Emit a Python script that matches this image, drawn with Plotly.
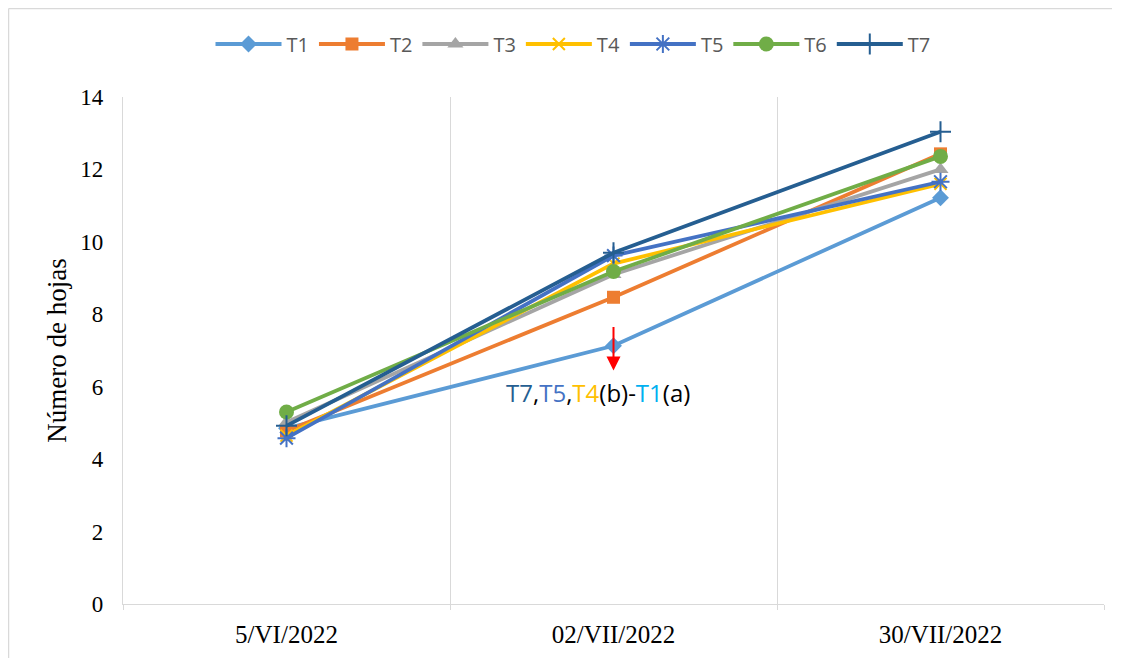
import plotly.graph_objects as go

fechas = ["5/VI/2022", "02/VII/2022", "30/VII/2022"]
series_names = ["T1", "T2", "T3", "T4", "T5", "T6", "T7"]
T1 = [4.85, 7.13, 11.22]
T2 = [4.78, 8.47, 12.43]
T3 = [5.02, 9.10, 12.00]
T4 = [4.65, 9.40, 11.60]
T5 = [4.58, 9.62, 11.66]
T6 = [5.30, 9.18, 12.36]
T7 = [4.92, 9.70, 13.04]
valores = [T1, T2, T3, T4, T5, T6, T7]
y_ticks = [0, 2, 4, 6, 8, 10, 12, 14]

colores = ["#5B9BD5", "#ED7D31", "#A5A5A5", "#FFC000", "#4472C4", "#70AD47", "#255E91"]
simbolos = ["diamond", "square", "triangle-up", "x-thin-open", "asterisk-open", "circle", "cross-thin-open"]
tamanos = [13, 13, 14, 12, 15, 15, 15]

fig = go.Figure()
for name, vals, col, sym, sz in zip(series_names, valores, colores, simbolos, tamanos):
    thin = sym.endswith("open")
    fig.add_trace(go.Scatter(
        x=fechas, y=vals, name=name, mode="lines+markers",
        line=dict(color=col, width=3.8),
        marker=dict(symbol=sym, size=sz, color=col,
                    line=dict(color=col, width=2 if thin else 0)),
    ))

# page body has an 8px offset; margins compensate so the plot area sits where the reference has it
L, R, T, B = 115, 26, 89, 62
W, H = 1122, 658
pw, ph = W - L - R, H - T - B

fig.update_layout(
    width=W, height=H,
    margin=dict(l=L, r=R, t=T, b=B),
    paper_bgcolor="white", plot_bgcolor="white",
    legend=dict(orientation="h", x=(565 - L) / pw, xanchor="center", y=(ph + T - 36) / ph,
                yanchor="middle",
                font=dict(family="Open Sans", size=20, color="#595959"),
                itemwidth=66, traceorder="normal"),
    xaxis=dict(type="category", tickson="boundaries", showgrid=True, gridcolor="#D9D9D9",
               gridwidth=1.3, showline=True, linecolor="#D9D9D9", linewidth=1.3,
               ticks="outside", ticklen=5, tickcolor="#D9D9D9", ticklabelstandoff=8,
               tickfont=dict(family="Liberation Serif", size=25, color="#000000"),
               range=[-0.5, 2.5]),
    yaxis=dict(range=[0, 14], tickvals=y_ticks, showgrid=False, showline=True,
               linecolor="#D9D9D9", linewidth=1.3, zeroline=False,
               ticks="", ticklabelstandoff=14,
               tickfont=dict(family="Liberation Serif", size=23, color="#000000"),
               title=dict(text="Número de hojas", standoff=5,
                          font=dict(family="Liberation Serif", size=27, color="#000000"))),
)

# chart border (top and left edges visible in the reference)
fig.add_shape(type="line", xref="paper", yref="paper",
              x0=-L / pw + 0.6 / pw, x1=(1104 - L) / pw,
              y0=(ph + T - 0.6) / ph, y1=(ph + T - 0.6) / ph,
              line=dict(color="#D9D9D9", width=1.3))
fig.add_shape(type="line", xref="paper", yref="paper",
              x0=-L / pw + 0.6 / pw, x1=-L / pw + 0.6 / pw,
              y0=-B / ph, y1=(ph + T - 0.6) / ph,
              line=dict(color="#D9D9D9", width=1.3))

# red arrow
fig.add_annotation(x=fechas[1], y=6.45, xref="x", yref="y", text="", showarrow=True,
                   arrowhead=2, arrowsize=1.4, arrowwidth=2, arrowcolor="#FF0000",
                   ax=0, ay=-45)
etiqueta = ("<span style='color:#255E91'>T7</span>,"
            "<span style='color:#4472C4'>T5</span>,"
            "<span style='color:#FFC000'>T4</span>(b)-"
            "<span style='color:#00B0F0'>T1</span>(a)")
fig.add_annotation(x=fechas[1], y=5.85, xref="x", yref="y", text=etiqueta, showarrow=False,
                   xshift=-16, font=dict(family="Open Sans", size=24, color="#000000"))

fig.write_html("out.html")
